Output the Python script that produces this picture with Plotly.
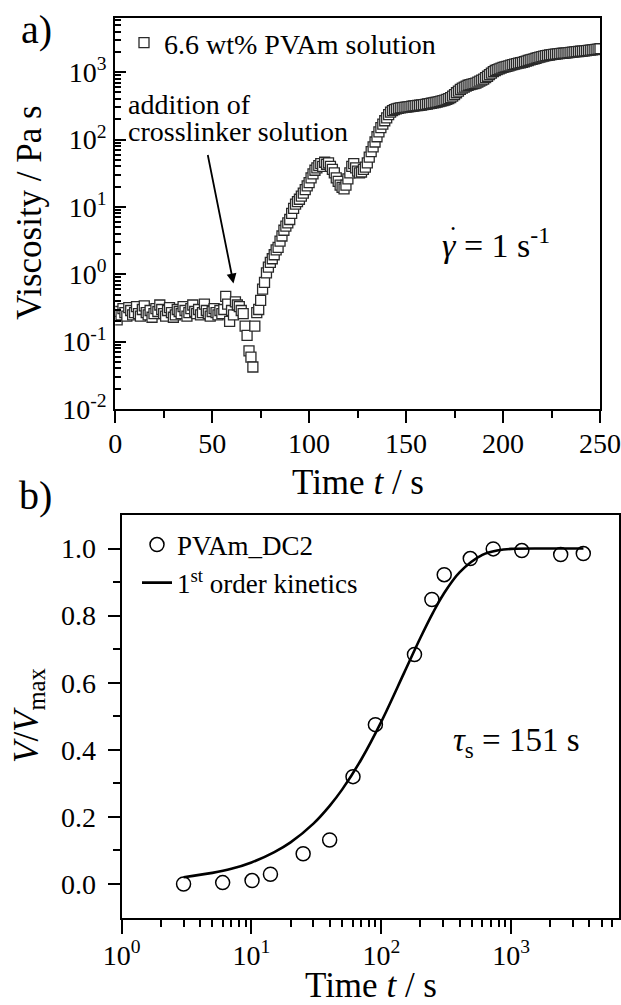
import plotly.graph_objects as go

# ---------------- data: panel a (viscosity vs time) ----------------
time_a = list(range(0, 251))
visc_a = [
    0.26, 0.21, 0.28, 0.25, 0.31, 0.27, 0.24, 0.32, 0.29, 0.25,
    0.27, 0.33, 0.26, 0.24, 0.30, 0.34, 0.27, 0.25, 0.29, 0.23,
    0.26, 0.31, 0.28, 0.35, 0.30, 0.26, 0.24, 0.29, 0.32, 0.27,
    0.23, 0.25, 0.30, 0.28, 0.26, 0.33, 0.29, 0.24, 0.27, 0.31,
    0.35, 0.28, 0.26, 0.30, 0.25, 0.27, 0.36, 0.29, 0.26, 0.24,
    0.28, 0.31, 0.27, 0.25, 0.29, 0.26, 0.30, 0.47, 0.36, 0.20,
    0.29, 0.25, 0.39, 0.35, 0.33, 0.29, 0.26, 0.17, 0.124, 0.073,
    0.059, 0.042, 0.17, 0.27, 0.30, 0.41, 0.60, 0.76, 1.05, 1.28,
    1.50, 1.70, 1.95, 2.30, 2.50, 3.10, 3.70, 4.50, 5.20, 5.80,
    6.50, 8.00, 9.50, 11.0, 12.0, 13.0, 14.5, 16.0, 18.0, 20.5,
    23.0, 27.0, 31.0, 35.0, 38.0, 41.0, 44.0, 40.0, 46.0, 43.0,
    45.0, 40.0, 36.0, 32.0, 27.0, 24.0, 21.0, 19.5, 18.5, 21.0,
    26.0, 32.0, 40.0, 44.0, 38.0, 34.0, 32.0, 33.0, 36.0, 39.0,
    45.0, 55.0, 66.0, 78.0, 92.0, 110, 130, 150, 170, 190,
    210, 235, 255, 268, 278, 285, 290, 295, 298, 300,
    302, 305, 308, 312, 315, 318, 320, 323, 326, 330,
    333, 337, 342, 346, 350, 355, 360, 366, 372, 378,
    385, 395, 405, 420, 440, 465, 495, 525, 555, 580,
    600, 620, 640, 655, 665, 675, 690, 710, 735, 760,
    790, 830, 870, 920, 970, 1020, 1060, 1090, 1120, 1150,
    1180, 1200, 1220, 1245, 1270, 1295, 1320, 1340, 1360, 1380,
    1400, 1430, 1460, 1490, 1520, 1550, 1580, 1610, 1640, 1670,
    1700, 1730, 1760, 1780, 1800, 1820, 1840, 1860, 1875, 1890,
    1900, 1910, 1925, 1940, 1955, 1970, 1985, 2000, 2015, 2030,
    2045, 2060, 2075, 2090, 2105, 2120, 2140, 2160, 2180, 2200,
    2230,
]

# ---------------- data: panel b (V/Vmax vs time) ----------------
time_b = [3.0, 6.0, 10.1, 14, 25, 40, 60.5, 90, 180, 245, 305, 484, 727, 1207, 2404, 3590]
vol_b = [0.000, 0.004, 0.010, 0.029, 0.090, 0.131, 0.320, 0.475, 0.684, 0.848,
         0.922, 0.970, 0.999, 0.994, 0.982, 0.985]

fit_t = [3, 5, 7, 10, 15, 20, 30, 40, 50, 70, 100, 150, 200, 250, 300, 400,
         600, 800, 1000, 2000, 3600]
fit_v = [0.020, 0.033, 0.045, 0.064, 0.095, 0.124, 0.180, 0.233, 0.282, 0.371,
         0.484, 0.630, 0.734, 0.809, 0.863, 0.929, 0.981, 0.995, 0.999, 1.000, 1.000]

visc_ticks = [0.01, 0.1, 1, 10, 100, 1000]
visc_ticktext = ["10<sup>-2</sup>", "10<sup>-1</sup>", "10<sup>0</sup>",
                 "10<sup>1</sup>", "10<sup>2</sup>", "10<sup>3</sup>"]
time_a_ticks = [0, 50, 100, 150, 200, 250]
time_b_ticks = [1, 10, 100, 1000]
time_b_ticktext = ["10<sup>0</sup>", "10<sup>1</sup>", "10<sup>2</sup>", "10<sup>3</sup>"]
vol_ticks = [0.0, 0.2, 0.4, 0.6, 0.8, 1.0]

FONT = "Liberation Serif, Times New Roman, serif"
W, H = 621, 1005

def px(x):
    return x / W

def py(y):
    return 1 - y / H

minor_visc = [m * 10 ** e for e in range(-2, 4) for m in range(2, 10) if m * 10 ** e < 6300]
minor_tb = [m * 10 ** e for e in range(0, 4) for m in range(2, 10) if m * 10 ** e < 6700]

fig = go.Figure()

fig.add_trace(go.Scatter(
    x=time_a, y=visc_a, mode="markers", name="6.6 wt% PVAm solution",
    marker=dict(symbol="square", size=10, color="white",
                line=dict(color="#2a2a2a", width=1.3)),
    xaxis="x", yaxis="y", legend="legend"))

fig.add_trace(go.Scatter(
    x=time_b, y=vol_b, mode="markers", name="PVAm_DC2",
    marker=dict(symbol="circle-open", size=14, color="black", line=dict(width=1.5)),
    xaxis="x2", yaxis="y2", legend="legend2"))

fig.add_trace(go.Scatter(
    x=fit_t, y=fit_v, mode="lines", name="1<sup>st</sup> order kinetics",
    line=dict(color="black", width=2.6, shape="spline"),
    xaxis="x2", yaxis="y2", legend="legend2"))

def axis_common(size=28):
    return dict(showline=True, linewidth=2, linecolor="black", mirror=True,
                showgrid=False, zeroline=False, tickcolor="black", automargin=False,
                ticklabeloverflow="allow",
                tickfont=dict(family=FONT, size=size, color="black"))

fig.update_layout(
    width=W, height=H,
    margin=dict(l=0, r=0, t=0, b=0, autoexpand=False),
    paper_bgcolor="white", plot_bgcolor="white",
    font=dict(family=FONT, color="black"),
    showlegend=True,
    xaxis=dict(domain=[px(115.2), px(600)], anchor="y", range=[0, 250],
               tickmode="array", tickvals=time_a_ticks,
               ticks="outside", ticklen=12, tickwidth=2, ticklabelstandoff=-4,
               minor=dict(tickmode="array", tickvals=[25, 75, 125, 175, 225],
                          ticks="outside", ticklen=7, tickwidth=1.8, tickcolor="black"),
               **axis_common(28)),
    yaxis=dict(domain=[py(409), py(18.3)], anchor="x", type="log", range=[-2, 3.8],
               tickmode="array", tickvals=visc_ticks, ticktext=visc_ticktext,
               ticks="inside", ticklen=11, tickwidth=2, ticklabelstandoff=1,
               minor=dict(tickmode="array", tickvals=minor_visc, ticks="inside",
                          ticklen=6, tickwidth=1.5, tickcolor="black"),
               **axis_common()),
    xaxis2=dict(domain=[px(121.6), px(619)], anchor="y2", type="log", range=[0, 3.83],
                tickmode="array", tickvals=time_b_ticks, ticktext=time_b_ticktext,
                ticks="outside", ticklen=14, tickwidth=2, ticklabelstandoff=-2,
                minor=dict(tickmode="array", tickvals=minor_tb, ticks="outside",
                           ticklen=7, tickwidth=1.8, tickcolor="black"),
                **axis_common()),
    yaxis2=dict(domain=[py(917.5), py(515)], anchor="x2", range=[-0.1, 1.1],
                tickmode="array", tickvals=vol_ticks, tickformat=".1f",
                ticks="outside", ticklen=12, tickwidth=2, ticklabelstandoff=6,
                minor=dict(tickmode="array", tickvals=[0.1, 0.3, 0.5, 0.7, 0.9],
                           ticks="outside", ticklen=7, tickwidth=1.8, tickcolor="black"),
                **axis_common()),
    legend=dict(x=px(124), y=py(43), xanchor="left", yanchor="middle",
                font=dict(family=FONT, size=28, color="black"),
                bgcolor="rgba(0,0,0,0)", borderwidth=0),
    legend2=dict(x=px(137), y=py(564), xanchor="left", yanchor="middle",
                 font=dict(family=FONT, size=27, color="black"),
                 bgcolor="rgba(0,0,0,0)", borderwidth=0, tracegroupgap=0),
)

def note(text, x, y, size, xanchor="center", angle=0):
    fig.add_annotation(text=text, x=px(x), y=py(y), xref="paper", yref="paper",
                       xanchor=xanchor, yanchor="middle", showarrow=False,
                       textangle=angle, font=dict(family=FONT, size=size, color="black"))

note("a)", 36, 30, 40)
note("b)", 35, 495, 40)
note("Viscosity / Pa s", 30, 213, 35, angle=-90)
note("Time <i>t</i> / s", 358, 482, 35)
note("<i>V</i>/<i>V</i><sub>max</sub>", 28, 716, 35, angle=-90)
note("Time <i>t</i> / s", 371, 985, 35)
note("addition of", 126, 104, 28, xanchor="left")
note("crosslinker solution", 126, 131, 28, xanchor="left")
note("<i>γ</i> = 1 s<sup>-1</sup>", 440, 243, 34, xanchor="left")
note("•", 453, 229, 12)
note("<i>τ</i><sub>s</sub> = 151 s", 451, 742, 33, xanchor="left")

# arrow pointing at the addition moment
fig.add_annotation(x=61, y=-0.137, xref="x", yref="y", text="", showarrow=True,
                   ax=-26, ay=-130, arrowhead=2, arrowsize=1.1, arrowwidth=1.8,
                   arrowcolor="black")

# remove the default page margin so the figure fills the window exactly
fig.write_html("out.html",
               config={"displayModeBar": False},
               post_script="document.body.style.margin='0px';"
                           "document.body.style.overflow='hidden';")
